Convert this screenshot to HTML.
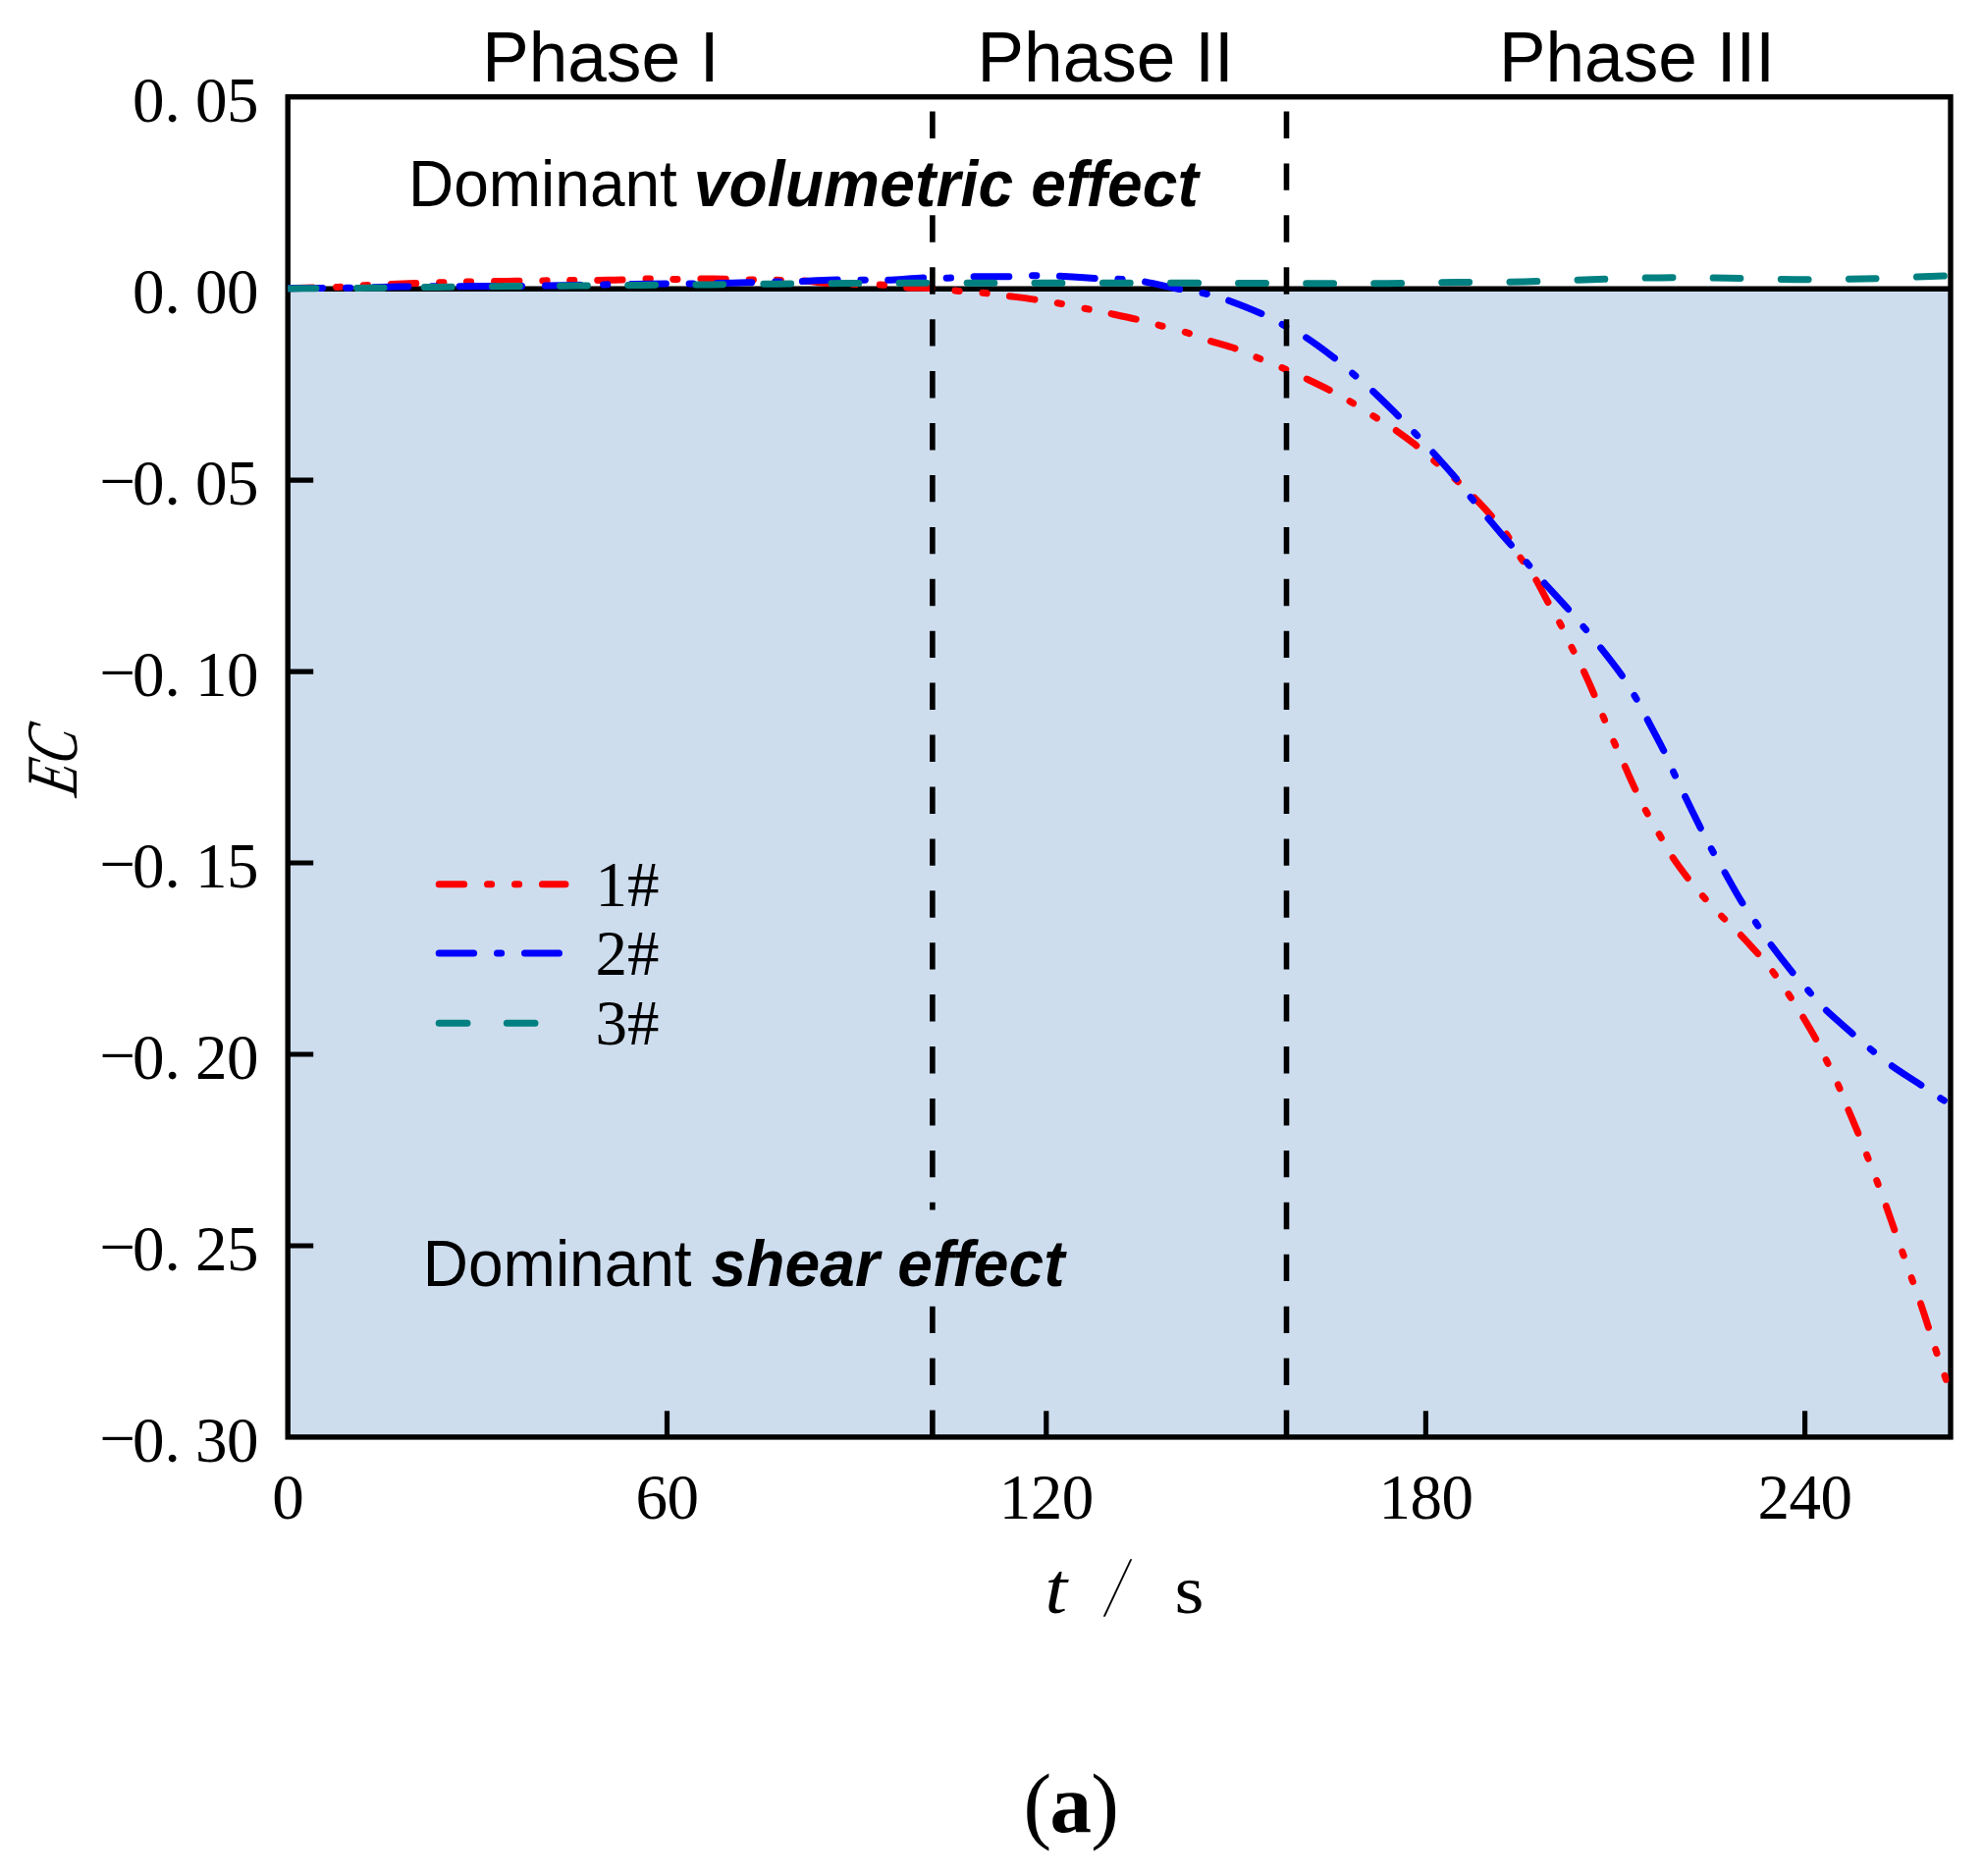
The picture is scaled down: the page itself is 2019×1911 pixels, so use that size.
<!DOCTYPE html>
<html lang="en"><head><meta charset="utf-8"><title>EC versus t</title>
<style>html,body{margin:0;padding:0;background:#fff}body{width:2019px;height:1911px;overflow:hidden}svg{display:block}text{fill:#000}.s{font-family:"Liberation Serif","Noto Serif CJK SC",serif}.a{font-family:"Liberation Sans",sans-serif}</style></head><body>
<svg width="2019" height="1911" viewBox="0 0 2019 1911">
<defs><clipPath id="pc"><rect x="293.2" y="98.7" width="1692.3" height="1365.2"/></clipPath></defs>
<rect x="0" y="0" width="2019" height="1911" fill="#fff"/>
<rect x="293.2" y="294.2" width="1693.8" height="1169.7" fill="#cdddee"/>
<rect x="293.2" y="98.7" width="1693.8" height="1365.2" fill="none" stroke="#000" stroke-width="5.4"/>
<line x1="293.2" y1="294.2" x2="1987.0" y2="294.2" stroke="#000" stroke-width="5.4"/>
<g clip-path="url(#pc)" fill="none" stroke-width="7.0" stroke-linecap="round" stroke-linejoin="round">
<path d="M293.2 293.7C301.7 293.5 331.2 292.9 344.4 292.4C357.6 291.9 361.3 291.3 372.4 290.7C383.5 290.1 398.3 289.5 411.0 289.0C423.7 288.5 437.8 288.1 448.8 287.8C459.8 287.5 465.8 287.2 477.1 287.0C488.4 286.8 503.7 286.6 516.5 286.4C529.3 286.2 542.9 286.0 553.8 285.9C564.7 285.8 570.8 285.7 581.8 285.6C592.8 285.5 607.1 285.6 620.0 285.3C632.9 285.1 648.2 284.2 659.4 284.1C670.6 284.0 676.1 284.4 687.2 284.4C698.3 284.4 713.1 283.9 726.0 284.0C738.9 284.1 753.5 284.8 764.4 285.0C775.3 285.2 782.7 285.1 791.6 285.3C800.5 285.5 809.4 285.5 818.0 286.0C826.6 286.5 834.5 287.9 843.0 288.5C851.5 289.1 860.0 289.1 869.0 289.3C878.0 289.6 888.4 289.4 897.1 290.0C905.9 290.6 912.4 292.2 921.5 292.8C930.6 293.4 942.7 293.0 951.5 293.6C960.3 294.2 966.2 295.4 974.5 296.2C982.8 297.0 992.5 297.4 1001.0 298.3C1009.5 299.2 1016.6 300.2 1025.8 301.4C1035.0 302.6 1047.2 304.1 1056.0 305.4C1064.8 306.7 1070.5 307.5 1078.9 309.0C1087.3 310.5 1098.0 312.8 1106.5 314.5C1115.0 316.2 1121.0 317.2 1129.7 319.1C1138.5 321.0 1150.3 323.5 1159.0 325.6C1167.7 327.7 1173.4 329.4 1181.6 331.6C1189.8 333.8 1200.2 336.2 1208.4 338.7C1216.6 341.2 1222.1 344.0 1230.6 346.8C1239.1 349.6 1250.9 352.4 1259.3 355.3C1267.7 358.2 1273.3 361.3 1281.1 364.5C1288.9 367.7 1298.2 371.2 1306.3 374.7C1314.3 378.1 1321.6 381.5 1329.4 385.2C1337.2 388.9 1345.8 392.9 1353.3 396.8C1360.8 400.7 1367.0 404.0 1374.6 408.5C1382.2 413.0 1391.6 419.1 1399.1 423.8C1406.6 428.5 1412.8 432.0 1419.8 436.8C1426.8 441.6 1434.6 447.4 1441.2 452.6C1447.8 457.8 1452.7 462.3 1459.5 468.2C1466.3 474.1 1475.6 482.0 1482.3 488.0C1489.0 494.0 1493.5 498.5 1499.4 504.4C1505.3 510.3 1511.7 517.0 1517.5 523.6C1523.3 530.2 1529.3 536.6 1534.5 543.9C1539.7 551.2 1543.5 559.8 1548.4 567.3C1553.3 574.8 1559.1 581.5 1563.8 589.1C1568.5 596.8 1572.6 605.6 1576.8 613.2C1581.0 620.8 1584.8 626.7 1588.9 634.5C1593.0 642.3 1597.4 652.2 1601.3 660.0C1605.2 667.8 1608.5 673.7 1612.2 681.5C1615.9 689.3 1620.2 698.9 1623.7 707.0C1627.2 715.1 1629.9 722.3 1633.3 730.4C1636.7 738.5 1640.5 747.5 1644.0 755.5C1647.5 763.5 1650.5 770.2 1654.2 778.3C1657.9 786.4 1662.2 796.4 1665.9 804.3C1669.6 812.2 1672.5 818.3 1676.6 825.9C1680.6 833.5 1685.9 842.3 1690.2 849.8C1694.5 857.3 1697.4 863.3 1702.2 870.7C1707.0 878.1 1713.7 887.2 1719.0 894.1C1724.3 901.0 1728.2 905.6 1733.9 912.0C1739.6 918.4 1746.9 926.1 1753.1 932.5C1759.3 938.9 1765.0 943.8 1771.3 950.4C1777.6 957.0 1785.2 965.2 1791.1 971.9C1796.9 978.6 1801.2 983.6 1806.4 990.5C1811.6 997.4 1817.2 1005.7 1822.1 1013.0C1827.0 1020.3 1831.1 1026.8 1835.8 1034.5C1840.5 1042.2 1846.0 1051.5 1850.2 1059.3C1854.4 1067.0 1857.1 1073.2 1860.9 1081.0C1864.7 1088.8 1869.4 1098.2 1873.0 1106.4C1876.6 1114.6 1879.4 1122.2 1882.7 1130.2C1886.0 1138.2 1889.5 1146.2 1892.8 1154.2C1896.1 1162.2 1899.2 1170.2 1902.4 1178.5C1905.7 1186.8 1909.1 1195.6 1912.3 1204.0C1915.5 1212.4 1918.6 1220.8 1921.5 1229.0C1924.4 1237.2 1927.1 1245.1 1929.9 1253.1C1932.7 1261.0 1935.4 1268.3 1938.4 1276.7C1941.4 1285.1 1944.8 1294.9 1947.8 1303.3C1950.8 1311.7 1953.5 1319.0 1956.3 1327.2C1959.1 1335.5 1962.0 1344.5 1964.7 1352.8C1967.4 1361.1 1969.7 1368.5 1972.5 1376.9C1975.3 1385.3 1979.3 1396.5 1981.7 1403.3C1984.1 1410.1 1986.1 1415.5 1987.0 1418.0" stroke="#ff0000" stroke-dasharray="25.5 23.8 4.2 23.8 4.2 23.7" stroke-dashoffset="0"/>
<path d="M293.2 293.7C296.0 293.7 299.9 293.6 310.0 293.5C320.1 293.4 338.0 293.5 354.0 293.3C370.0 293.1 384.2 292.4 406.0 292.1C427.8 291.8 464.5 291.7 485.0 291.6C505.5 291.5 514.3 291.8 529.0 291.6C543.7 291.5 558.5 291.0 573.0 290.7C587.5 290.4 598.2 290.2 616.0 289.9C633.8 289.6 665.6 289.1 680.0 289.0C694.4 288.9 691.4 289.1 702.6 289.0C713.8 288.9 732.3 288.5 747.0 288.2C761.7 287.9 779.5 287.3 790.7 287.0C801.9 286.7 803.8 286.9 814.4 286.6C825.0 286.3 843.8 285.2 854.4 285.0C865.0 284.8 870.4 285.1 878.2 285.2C886.1 285.3 890.8 285.9 901.5 285.5C912.2 285.1 932.0 283.2 942.6 282.8C953.2 282.4 957.4 283.4 965.2 283.2C973.0 283.0 978.8 282.0 989.4 281.8C1000.0 281.6 1018.3 282.0 1028.8 281.8C1039.3 281.6 1044.3 280.9 1052.4 280.8C1060.5 280.7 1066.5 280.7 1077.2 281.2C1087.9 281.7 1106.3 283.1 1116.6 283.6C1126.9 284.1 1130.9 283.7 1138.8 284.2C1146.7 284.7 1153.4 284.9 1164.0 286.6C1174.6 288.4 1192.1 292.7 1202.4 294.7C1212.7 296.7 1218.0 297.0 1225.6 298.7C1233.2 300.4 1237.9 301.3 1247.8 304.8C1257.7 308.3 1275.5 315.3 1285.1 319.5C1294.7 323.7 1298.2 326.2 1305.3 330.0C1312.4 333.8 1319.2 336.6 1327.7 342.0C1336.2 347.4 1348.1 356.1 1356.1 362.2C1364.1 368.3 1369.1 373.0 1375.7 378.6C1382.3 384.2 1388.0 388.8 1395.5 395.7C1403.0 402.6 1413.4 412.8 1420.5 419.8C1427.6 426.8 1432.2 431.6 1438.2 437.9C1444.2 444.2 1449.6 449.7 1456.7 457.5C1463.8 465.3 1474.3 477.0 1480.8 484.6C1487.3 492.2 1490.4 496.8 1495.7 503.4C1501.0 510.0 1506.2 516.4 1512.8 524.3C1519.4 532.2 1528.9 543.3 1535.6 550.9C1542.2 558.5 1546.9 563.5 1552.7 570.1C1558.5 576.8 1563.5 583.0 1570.4 590.8C1577.3 598.6 1587.5 609.3 1594.2 616.8C1601.0 624.3 1605.3 629.4 1610.9 636.0C1616.5 642.6 1621.2 648.0 1627.9 656.5C1634.7 665.0 1645.2 678.4 1651.4 687.0C1657.6 695.6 1660.5 700.9 1664.8 708.2C1669.1 715.5 1672.0 721.4 1677.0 730.8C1682.0 740.2 1690.1 755.2 1694.7 764.5C1699.3 773.8 1701.2 778.9 1704.7 786.4C1708.2 793.9 1711.0 799.9 1715.6 809.3C1720.1 818.7 1727.4 833.7 1732.0 842.9C1736.6 852.1 1739.4 857.5 1743.3 864.7C1747.2 871.9 1750.4 877.0 1755.5 886.0C1760.6 895.0 1768.5 909.5 1774.0 918.4C1779.5 927.3 1783.6 932.3 1788.3 939.3C1793.0 946.3 1796.2 951.7 1802.4 960.2C1808.6 968.7 1819.1 982.1 1825.6 990.1C1832.1 998.1 1835.9 1001.9 1841.2 1008.0C1846.5 1014.1 1850.1 1019.2 1857.6 1026.6C1865.1 1034.0 1878.1 1045.1 1886.2 1052.2C1894.3 1059.3 1899.2 1063.5 1906.0 1069.1C1912.8 1074.6 1918.4 1079.4 1926.9 1085.5C1935.4 1091.6 1948.7 1099.9 1957.2 1105.6C1965.7 1111.3 1973.0 1116.4 1978.0 1119.6C1983.0 1122.8 1985.5 1124.1 1987.0 1125.0" stroke="#0000ff" stroke-dasharray="35.4 23.9 4.2 23.92" stroke-dashoffset="0"/>
<path d="M293.2 293.9C295.8 293.9 295.0 293.9 309.0 293.8C323.0 293.7 354.2 293.5 377.0 293.3C399.8 293.1 423.0 292.7 446.0 292.4C469.0 292.1 492.0 291.8 515.0 291.6C538.0 291.4 560.9 291.3 584.0 291.1C607.1 290.9 630.4 290.6 653.5 290.4C676.6 290.2 699.5 290.1 722.5 289.9C745.5 289.7 768.6 289.4 791.6 289.2C814.6 289.0 837.6 288.8 860.6 288.6C883.6 288.4 906.4 288.2 929.6 288.2C952.8 288.1 954.9 288.3 1000.0 288.3C1045.1 288.3 1142.5 288.2 1200.0 288.3C1257.5 288.4 1309.2 288.6 1344.8 288.7C1380.4 288.8 1390.7 288.9 1413.7 288.7C1436.7 288.5 1459.4 287.9 1482.6 287.6C1505.8 287.3 1529.4 287.4 1552.6 286.9C1575.8 286.4 1598.5 285.4 1621.6 284.7C1644.7 284.0 1668.2 283.1 1691.2 282.9C1714.2 282.7 1736.6 283.0 1759.5 283.3C1782.4 283.6 1805.7 284.6 1828.8 284.7C1851.9 284.8 1875.0 284.5 1898.0 284.0C1921.0 283.5 1952.2 282.0 1967.0 281.5C1981.8 281.0 1983.7 281.1 1987.0 281.0" stroke="#008080" stroke-dasharray="27.8 41.3" stroke-dashoffset="-1"/>
</g>
<path d="M949.9 1436.5V1463.9M949.9 1383.6V1411.0M949.9 1330.7V1358.1M949.9 1224.8V1232.6M949.9 1171.9V1199.3M949.9 1119.0V1146.4M949.9 1066.1V1093.5M949.9 1013.1V1040.5M949.9 960.2V987.6M949.9 907.3V934.7M949.9 854.4V881.8M949.9 801.5V828.9M949.9 748.5V775.9M949.9 695.6V723.0M949.9 642.7V670.1M949.9 589.8V617.2M949.9 536.9V564.3M949.9 483.9V511.3M949.9 431.0V458.4M949.9 378.1V405.5M949.9 325.2V352.6M949.9 272.3V299.7M949.9 219.3V246.7M949.9 113.5V140.9" stroke="#000" stroke-width="5.6" fill="none"/>
<path d="M1310.5 1436.5V1463.9M1310.5 1383.6V1411.0M1310.5 1330.7V1358.1M1310.5 1277.7V1305.1M1310.5 1224.8V1252.2M1310.5 1171.9V1199.3M1310.5 1119.0V1146.4M1310.5 1066.1V1093.5M1310.5 1013.1V1040.5M1310.5 960.2V987.6M1310.5 907.3V934.7M1310.5 854.4V881.8M1310.5 801.5V828.9M1310.5 748.5V775.9M1310.5 695.6V723.0M1310.5 642.7V670.1M1310.5 589.8V617.2M1310.5 536.9V564.3M1310.5 483.9V511.3M1310.5 431.0V458.4M1310.5 378.1V405.5M1310.5 325.2V352.6M1310.5 272.3V299.7M1310.5 219.3V246.7M1310.5 166.4V193.8M1310.5 113.5V140.9" stroke="#000" stroke-width="5.6" fill="none"/>
<path d="M293.2 489.1H319.2M293.2 684.1H319.2M293.2 879.0H319.2M293.2 1074.0H319.2M293.2 1269.0H319.2M679.5 1463.9V1437.2M1065.8 1463.9V1437.2M1452.4 1463.9V1437.2M1838.6 1463.9V1437.2" stroke="#000" stroke-width="5.2" fill="none"/>
<text class="s" font-size="65" x="135.0 167.5 199.0 231.0" y="123.5 123.5 123.5 123.5">0.05</text>
<text class="s" font-size="65" x="135.0 167.5 199.0 231.0" y="318.5 318.5 318.5 318.5">0.00</text>
<text class="s" font-size="65" x="101.5 135.0 167.5 199.0 231.0" y="512.1 513.6 513.6 513.6 513.6">−0.05</text>
<text class="s" font-size="65" x="101.5 135.0 167.5 199.0 231.0" y="707.1 708.6 708.6 708.6 708.6">−0.10</text>
<text class="s" font-size="65" x="101.5 135.0 167.5 199.0 231.0" y="902.1 903.6 903.6 903.6 903.6">−0.15</text>
<text class="s" font-size="65" x="101.5 135.0 167.5 199.0 231.0" y="1097.1 1098.6 1098.6 1098.6 1098.6">−0.20</text>
<text class="s" font-size="65" x="101.5 135.0 167.5 199.0 231.0" y="1292.2 1293.7 1293.7 1293.7 1293.7">−0.25</text>
<text class="s" font-size="65" x="101.5 135.0 167.5 199.0 231.0" y="1487.2 1488.7 1488.7 1488.7 1488.7">−0.30</text>
<text class="s" font-size="65" x="277.2" y="1546.7">0</text>
<text class="s" font-size="65" x="647.5 679.5" y="1546.7">60</text>
<text class="s" font-size="65" x="1017.8 1049.8 1081.8" y="1546.7">120</text>
<text class="s" font-size="65" x="1404.4 1436.4 1468.4" y="1546.7">180</text>
<text class="s" font-size="65" x="1790.6 1822.6 1854.6" y="1546.7">240</text>
<text class="a" font-size="71.2" text-anchor="middle" transform="translate(611.9 82.8) scale(1 1.015)">Phase I</text>
<text class="a" font-size="71.2" text-anchor="middle" transform="translate(1126.2 82.8) scale(1 1.015)">Phase II</text>
<text class="a" font-size="71.2" text-anchor="middle" transform="translate(1667.5 82.8) scale(1 1.015)">Phase III</text>
<text class="a" font-size="64" transform="translate(416 210.3) scale(1 1.03)">Dominant <tspan font-weight="bold" font-style="italic" letter-spacing="0.2" dx="-0.9">volumetric effect</tspan></text>
<text class="a" font-size="64" transform="translate(430.8 1310) scale(1 1.03)">Dominant <tspan font-weight="bold" font-style="italic" letter-spacing="0.2" dx="2">shear effect</tspan></text>
<g fill="none" stroke-width="7.0" stroke-linecap="round">
<path d="M447.2 900.7H576" stroke="#ff0000" stroke-dasharray="25.5 23.8 4.2 23.8 4.2 23.7"/>
<path d="M447.2 971.1H569.5" stroke="#0000ff" stroke-dasharray="35.4 23.85 4.2 23.85"/>
<path d="M447.2 1042.2H545" stroke="#008080" stroke-dasharray="28.8 40.3"/>
</g>
<text class="s" font-size="65" x="606.5 639" y="923.2">1#</text>
<text class="s" font-size="65" x="606.5 639" y="993.2">2#</text>
<text class="s" font-size="65" x="606.5 639" y="1064.0">3#</text>
<text class="s" font-size="72" transform="translate(77.8 815) rotate(-90) skewX(-19) scale(0.74 1.03)" x="0" y="0">EC</text>
<text class="s" font-size="74" font-style="italic" transform="translate(1064.5 1643) scale(1.1 1)">t</text>
<text class="s" font-size="86" transform="translate(1124 1645.8) skewX(-16.7) scale(0.5 1.02)">/</text>
<text class="s" font-size="70" transform="translate(1196.5 1643) scale(1.1 1)">s</text>
<text class="s" font-size="86" x="1042.6" y="1867.4">(<tspan font-size="85" font-weight="bold" x="1069.5" y="1866">a</tspan><tspan x="1111.3" y="1867.4">)</tspan></text>
</svg></body></html>
